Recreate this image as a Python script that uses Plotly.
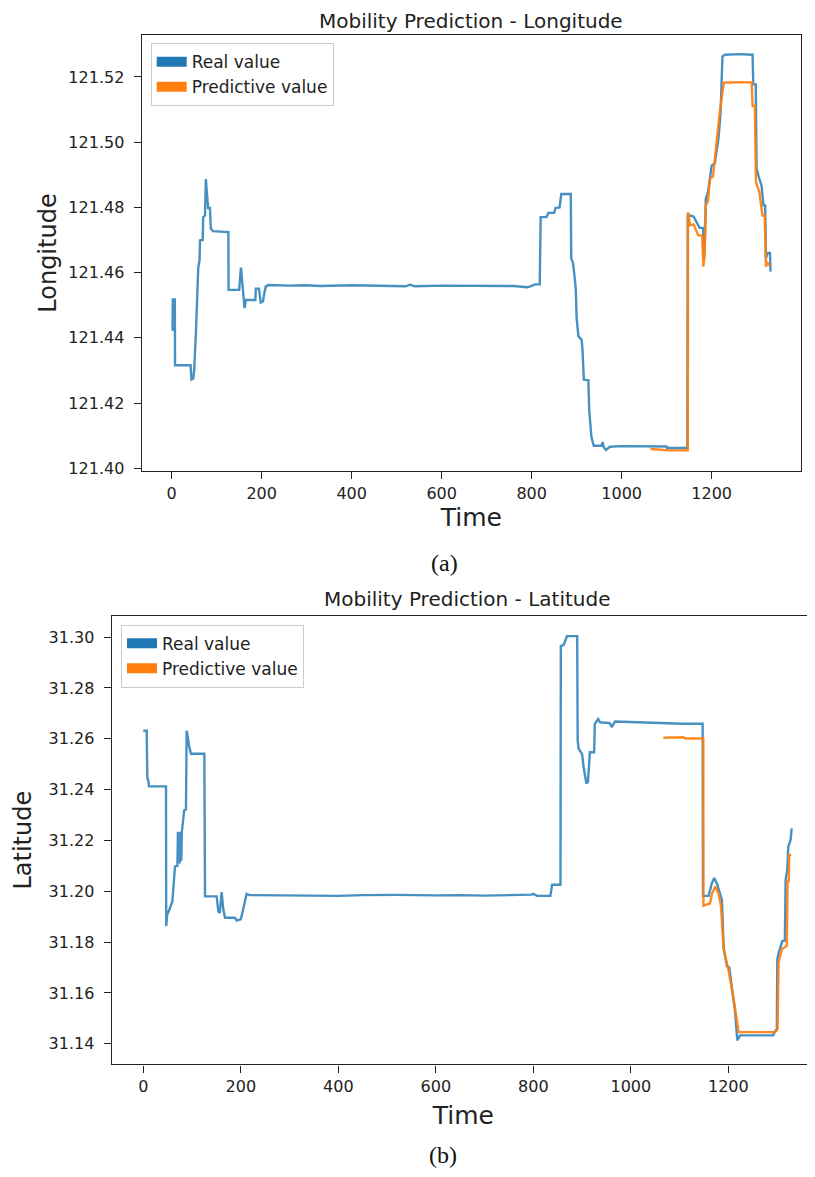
import plotly.graph_objects as go

# ---------------- Data ----------------
lon_real_t = [0, 2, 2.5, 4, 5, 6, 7, 7.5, 42, 44, 48, 50, 54, 59, 62, 63, 69, 70, 74, 76, 78, 80, 81, 85, 87, 92,
              126, 126.5, 150, 154, 162, 165, 186, 187, 194, 198, 203, 205, 209, 215, 260, 300, 330, 400, 470,
              520, 530, 540, 600, 640, 700, 760, 790, 796, 807, 818, 820, 833, 837, 850, 853, 862, 866, 887, 888,
              892, 895, 898, 900, 904, 911, 913, 916, 926, 928, 933, 938, 955, 958, 960, 965, 974, 1000, 1062,
              1100, 1101, 1146, 1147, 1152, 1160, 1166, 1173, 1181, 1183, 1185, 1187, 1192, 1200, 1207, 1215,
              1220, 1224, 1230, 1260, 1291, 1292.6, 1298, 1300, 1306, 1311, 1315, 1319, 1320.6, 1324, 1329.5, 1331]
lon_real_v = [121.4425, 121.4425, 121.4521, 121.4500, 121.4521, 121.4480, 121.4521, 121.4316, 121.4316, 121.4272,
              121.4275, 121.4300, 121.4420, 121.4613, 121.4640, 121.4699, 121.4700, 121.4770, 121.4775, 121.4887,
              121.4850, 121.4820, 121.4798, 121.4798, 121.4735, 121.4727, 121.4724, 121.4547, 121.4547, 121.4615,
              121.4491, 121.4516, 121.4516, 121.4551, 121.4551, 121.4508, 121.4512, 121.4530, 121.4557, 121.4562,
              121.4560, 121.4561, 121.4559, 121.4561, 121.4560, 121.4558, 121.4563, 121.4558, 121.4560, 121.4560,
              121.4558, 121.4559, 121.4555, 121.4557, 121.4564, 121.4564, 121.4770, 121.4770, 121.4783, 121.4783,
              121.4798, 121.4800, 121.4841, 121.4841, 121.4643, 121.4630, 121.4592, 121.4552, 121.4460, 121.4405,
              121.4394, 121.4364, 121.4272, 121.4270, 121.4176, 121.4095, 121.4069, 121.4069, 121.4080, 121.4065,
              121.4056, 121.4066, 121.4068, 121.4068, 121.4067, 121.4062, 121.4062, 121.4775, 121.4775, 121.4772,
              121.4755, 121.4737, 121.4737, 121.4643, 121.4690, 121.4826, 121.4847, 121.4928, 121.4935, 121.5009,
              121.5091, 121.5263, 121.5268, 121.5270, 121.5268, 121.5177, 121.5177, 121.4918, 121.4887, 121.4867,
              121.4806, 121.4806, 121.4643, 121.4660, 121.4660, 121.4603]

lon_pred_t = [1064, 1107, 1147, 1147.5, 1152, 1160, 1170, 1179, 1181.5, 1184, 1187, 1192, 1196, 1203, 1211, 1218,
              1227, 1260, 1289, 1291, 1296, 1298.5, 1306, 1313, 1318, 1320.7, 1324, 1329.6]
lon_pred_v = [121.4059, 121.4055, 121.4055, 121.4785, 121.4745, 121.4748, 121.4714, 121.4714, 121.4618, 121.4650,
              121.4806, 121.4820, 121.4887, 121.4895, 121.4999, 121.5091, 121.5182, 121.5184, 121.5183, 121.5111,
              121.5111, 121.4877, 121.4847, 121.4775, 121.4775, 121.4618, 121.4630, 121.4621]

lat_real_t = [0, 7, 8.3, 10, 11.7, 46.6, 47, 49, 52, 55, 59.6, 65, 70, 71, 72, 73.5, 75, 76.5, 78, 79, 84, 87.5,
              89, 91, 93.7, 97.8, 125.2, 126.6, 150.5, 154, 157, 160.7, 164, 167.6, 188, 191.5, 200, 205, 212,
              218, 300, 400, 450, 520, 600, 650, 700, 780, 796.6, 800, 807.9, 835, 838.6, 855.7, 856.5, 862.5, 869,
              890, 891, 893, 900, 903.6, 909, 912, 916, 924.8, 926.2, 933, 937, 957, 960.7, 967.6, 1005, 1073,
              1107, 1147.3, 1148, 1159.6, 1166.4, 1171.2, 1176.7, 1186.9, 1190.4, 1197, 1202, 1206.8, 1213.7,
              1218.5, 1224, 1260, 1292, 1296, 1299.5, 1300.5, 1304, 1310.8, 1316, 1317.6, 1321, 1323, 1327.8, 1329.9]
lat_real_v = [31.2632, 31.2632, 31.2443, 31.2440, 31.2413, 31.2413, 31.1863, 31.1909, 31.1920, 31.1935, 31.1960,
              31.2098, 31.2100, 31.2234, 31.2110, 31.2234, 31.2110, 31.2234, 31.2120, 31.2234, 31.2319, 31.2322,
              31.2632, 31.2610, 31.2574, 31.2541, 31.2541, 31.1980, 31.1980, 31.1921, 31.1915, 31.1997, 31.1930,
              31.1896, 31.1896, 31.1885, 31.1890, 31.1930, 31.1990, 31.1985, 31.1983, 31.1982, 31.1985, 31.1986,
              31.1984, 31.1985, 31.1983, 31.1986, 31.1987, 31.1990, 31.1982, 31.1982, 31.2026, 31.2026, 31.2965,
              31.2970, 31.3004, 31.3004, 31.2593, 31.2561, 31.2541, 31.2482, 31.2424, 31.2430, 31.2547, 31.2547,
              31.2659, 31.2678, 31.2665, 31.2662, 31.2646, 31.2668, 31.2665, 31.2662, 31.2659, 31.2659, 31.1982,
              31.1982, 31.2033, 31.2052, 31.2030, 31.1967, 31.1778, 31.1706, 31.1700, 31.1628, 31.1530, 31.1413,
              31.1433, 31.1433, 31.1433, 31.1450, 31.1455, 31.1733, 31.1763, 31.1804, 31.1806, 31.2045, 31.2085,
              31.2176, 31.2202, 31.2248]

lat_pred_t = [1066.7, 1107.7, 1112, 1148.7, 1149, 1162.3, 1166.4, 1173.3, 1180, 1185, 1190.4, 1200.6, 1210.9,
              1221, 1228, 1296, 1301, 1303, 1310, 1320, 1321.5, 1324, 1325, 1329]
lat_pred_v = [31.2604, 31.2606, 31.2601, 31.2601, 31.1944, 31.1952, 31.1990, 31.2019, 31.1990, 31.1941, 31.1773,
              31.1687, 31.1576, 31.1446, 31.1446, 31.1446, 31.1460, 31.1720, 31.1773, 31.1785, 31.2039, 31.2039,
              31.2143, 31.2143]

x_ticks = [0, 200, 400, 600, 800, 1000, 1200]
lon_ticks = [121.40, 121.42, 121.44, 121.46, 121.48, 121.50, 121.52]
lat_ticks = [31.14, 31.16, 31.18, 31.20, 31.22, 31.24, 31.26, 31.28, 31.30]
series_names = ["Real value", "Predictive value"]

# ---------------- Styling ----------------
W, H = 815, 1177
OFF = 8  # the page body margin shifts the figure by this many pixels
BLUE_LINE = "rgba(31,119,180,0.82)"
ORANGE_LINE = "rgba(255,127,14,0.92)"
BLUE = "#1f77b4"
ORANGE = "#ff7f0e"
FONT = "DejaVu Sans, Liberation Sans, sans-serif"
LW = 2.4

fig = go.Figure()

fig.add_trace(go.Scatter(x=lon_real_t, y=lon_real_v, mode="lines", line=dict(color=BLUE_LINE, width=LW),
                         xaxis="x", yaxis="y", showlegend=False, hoverinfo="skip"))
fig.add_trace(go.Scatter(x=lon_pred_t, y=lon_pred_v, mode="lines", line=dict(color=ORANGE_LINE, width=LW),
                         xaxis="x", yaxis="y", showlegend=False, hoverinfo="skip"))
fig.add_trace(go.Scatter(x=lat_real_t, y=lat_real_v, mode="lines", line=dict(color=BLUE_LINE, width=LW),
                         xaxis="x2", yaxis="y2", showlegend=False, hoverinfo="skip"))
fig.add_trace(go.Scatter(x=lat_pred_t, y=lat_pred_v, mode="lines", line=dict(color=ORANGE_LINE, width=LW),
                         xaxis="x2", yaxis="y2", showlegend=False, hoverinfo="skip"))

for name, col in zip(series_names, [BLUE, ORANGE]):
    fig.add_trace(go.Scatter(x=[None], y=[None], mode="lines", name=name, line=dict(color=col, width=11),
                             xaxis="x", yaxis="y", legend="legend"))
for name, col in zip(series_names, [BLUE, ORANGE]):
    fig.add_trace(go.Scatter(x=[None], y=[None], mode="lines", name=name, line=dict(color=col, width=11),
                             xaxis="x2", yaxis="y2", legend="legend2"))

axis_common = dict(showline=True, linecolor="#222", linewidth=1.3, ticks="outside", ticklen=7,
                   tickwidth=1.2, tickcolor="#222", showgrid=False, zeroline=False,
                   tickfont=dict(family=FONT, size=16, color="#222"))


def px_x(p):
    return (p - OFF) / W


def px_y(p):
    return 1 - (p - OFF) / H


fig.update_layout(
    width=W, height=H,
    margin=dict(l=0, r=0, t=0, b=0),
    paper_bgcolor="white", plot_bgcolor="white",
    font=dict(family=FONT, color="#222"),
    xaxis=dict(domain=[px_x(141.7), px_x(801)], range=[-66.6, 1398.6], tickvals=x_ticks, mirror=True,
               anchor="y", title=dict(text="Time", font=dict(size=25), standoff=6), **axis_common),
    yaxis=dict(domain=[px_y(474), px_y(35)], range=[121.3991, 121.5329], tickvals=lon_ticks, tickformat=".2f",
               mirror=True, anchor="x", ticklabelstandoff=6,
               title=dict(text="Longitude", font=dict(size=24), standoff=4), **axis_common),
    xaxis2=dict(domain=[px_x(111.7), px_x(815)], range=[-64.8, 1377.8], tickvals=x_ticks, mirror=True,
                anchor="y2", title=dict(text="Time", font=dict(size=25), standoff=11), **axis_common),
    yaxis2=dict(domain=[px_y(1070.7), px_y(619.7)], range=[31.1319, 31.3083], tickvals=lat_ticks,
                tickformat=".2f", mirror=False, anchor="x2", ticklabelstandoff=6,
                title=dict(text="Latitude", font=dict(size=24), standoff=10), **axis_common),
    legend=dict(x=px_x(150.7), y=px_y(43.3), xanchor="left", yanchor="top", bgcolor="rgba(255,255,255,0.8)",
                bordercolor="#cccccc", borderwidth=1, font=dict(family=FONT, size=17, color="#222"),
                tracegroupgap=0),
    legend2=dict(x=px_x(121), y=px_y(628.3), xanchor="left", yanchor="top", bgcolor="rgba(255,255,255,0.8)",
                 bordercolor="#cccccc", borderwidth=1, font=dict(family=FONT, size=17, color="#222"),
                 tracegroupgap=0),
    annotations=[
        dict(text="Mobility Prediction - Longitude", x=px_x(471.3), y=px_y(21), xref="paper", yref="paper",
             xanchor="center", yanchor="middle", showarrow=False, borderpad=0,
             font=dict(family=FONT, size=20, color="#222")),
        dict(text="Mobility Prediction - Latitude", x=px_x(467), y=px_y(603), xref="paper", yref="paper",
             xanchor="center", yanchor="middle", showarrow=False, borderpad=0,
             font=dict(family=FONT, size=20, color="#222")),
        dict(text="(a)", x=px_x(444), y=px_y(566), xref="paper", yref="paper", xanchor="center",
             yanchor="middle", showarrow=False,
             font=dict(family="Liberation Serif, Times New Roman, serif", size=24, color="#111")),
        dict(text="(b)", x=px_x(443), y=px_y(1162), xref="paper", yref="paper", xanchor="center",
             yanchor="middle", showarrow=False,
             font=dict(family="Liberation Serif, Times New Roman, serif", size=24, color="#111")),
    ],
)

fig.write_html("out.html")
